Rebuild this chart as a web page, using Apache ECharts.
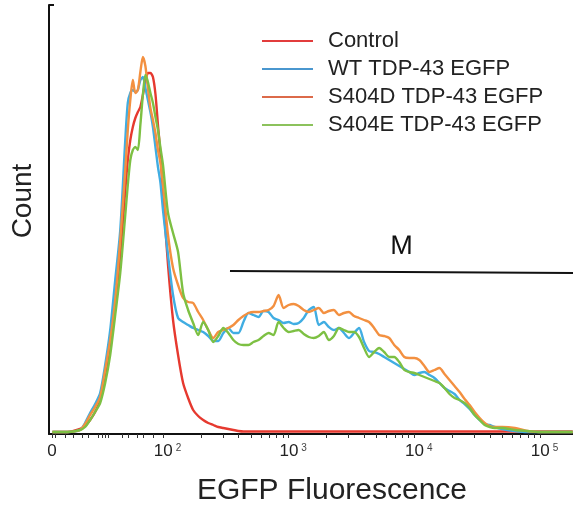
<!DOCTYPE html>
<html>
<head>
<meta charset="utf-8">
<script src="https://cdn.jsdelivr.net/npm/echarts@6/dist/echarts.min.js"></script>
<style>html,body{margin:0;padding:0;background:#fff}#c{width:573px;height:506px}</style>
</head>
<body>
<div id="c"></div>
<script>
// x positions in display decades (0 maps to 1.117, 10^2 -> 2, 10^3 -> 3 ...)
const xPos = [1.12,1.24,1.34,1.38,1.42,1.46,1.50,1.54,1.58,1.62,1.66,1.70,
1.72,1.74,1.76,1.78,1.80,1.82,1.84,1.86,1.88,1.90,1.92,1.94,1.96,1.98,2.00,
2.04,2.08,2.12,2.16,2.20,2.24,2.28,2.32,2.36,2.40,2.44,2.48,2.52,2.56,2.60,2.64,2.68,2.72,2.76,2.80,
2.84,2.88,2.92,2.96,3.00,3.04,3.08,3.12,3.16,3.20,3.24,3.28,3.32,3.36,3.40,3.44,3.48,3.52,3.56,3.60,
3.64,3.68,3.72,3.76,3.80,3.84,3.88,3.92,3.96,4.00,4.04,4.08,4.12,4.16,4.20,4.24,4.28,4.32,4.36,4.40,
4.44,4.48,4.52,4.56,4.60,4.64,4.70,4.80,4.90,5.00,5.12,5.26];

const control = [4,4,10, 16,28,44,68,114,174,262,358,488,
548,588,614,632,644,654,678,704,722,722,714,680,618,560,480,
338,228,158,102,72,48,36,28,22,18,14,12,10,8,6,5,5,5,5,5,
5,5,5,5,5,5,5,5,5,5,5,5,5,5,5,5,5,5,5,5,
5,5,5,5,5,5,5,5,5,5,5,5,5,5,5,5,5,5,5,5,
5,5,5,5,5,5,5,5,5,5,5,5];

const wt = [4,4,8, 22,42,60,82,138,208,308,408,588,
662,682,688,684,688,708,714,692,668,644,614,574,534,502,448,
358,278,232,224,218,212,208,204,196,186,186,202,212,202,202,224,242,238,234,246,
244,232,228,222,224,220,222,232,248,254,218,224,214,208,212,202,192,202,212,184,
166,164,160,154,148,142,136,130,124,118,122,124,118,112,102,92,86,80,68,60,
50,38,28,20,18,14,10,6,4,4,4,4];

const s404d = [4,4,8, 20,38,54,74,128,188,268,388,528,
608,668,708,682,688,724,754,736,692,652,628,602,568,542,498,
398,332,298,272,264,262,244,228,208,192,204,208,212,218,228,236,242,244,244,246,
248,256,278,252,258,260,256,248,244,248,252,242,246,248,238,242,244,236,232,228,
224,212,198,196,192,178,168,154,152,152,148,136,124,128,132,120,108,96,84,70,
58,44,32,22,16,14,14,12,6,4,4,4];

const s404e = [4,4,8, 14,28,44,62,102,158,238,322,438,
498,548,568,574,568,618,678,718,704,682,662,634,608,572,538,
442,402,364,282,248,222,198,224,208,184,196,212,202,188,180,178,178,184,188,196,
202,198,224,212,204,206,208,200,194,192,196,204,188,196,212,208,204,204,194,172,
154,164,172,164,154,154,144,128,124,122,118,114,110,106,102,92,80,72,68,62,
52,38,28,18,14,12,12,8,6,4,4,4];

const seriesNames = ['Control','WT TDP-43 EGFP','S404D TDP-43 EGFP','S404E TDP-43 EGFP'];
const tickValues = [1.117, 2, 3, 4, 5];
const tickExponents = [null, 2, 3, 4, 5];
const lowTicks = [1.141,1.22,1.284,1.356,1.403,1.483,1.515,1.539,1.562,1.674,1.722,1.793,1.841,1.92];
const gateRange = [2.533, 5.2625];
const gateLevel = [326, 322];
const gateLabel = 'M';

const FONT = '"Liberation Sans", Arial, Helvetica, sans-serif';
const lineColors = ['#e6392f', '#40ade2', '#f39040', '#7dc043'];
const legendColors = ['#e23c3c', '#4a97cf', '#dc6a4a', '#8cc25c'];

const allTicks = tickValues.concat(lowTicks);
for (let n = 2; n <= 4; n++) {
  for (let k = 2; k <= 9; k++) allTicks.push(Math.log10(k) + n);
}

function zip(ys) { return xPos.map((x, i) => [x, ys[i]]); }
const values = [control, wt, s404d, s404e];

const series = values.map((ys, i) => ({
  name: seriesNames[i],
  type: 'line',
  data: zip(ys),
  showSymbol: false,
  smooth: 0.25,
  lineStyle: { width: 2.4, color: lineColors[i] },
  itemStyle: { color: lineColors[i] },
  z: 2 + i
}));
series.push({
  name: 'gate',
  type: 'line',
  data: [],
  markLine: {
    silent: true,
    symbol: 'none',
    animation: false,
    lineStyle: { color: '#111', width: 2, type: 'solid' },
    label: { show: true, position: 'middle', formatter: gateLabel, fontSize: 27, color: '#111', fontFamily: FONT, distance: 12 },
    data: [[{ coord: [gateRange[0], gateLevel[0]] }, { coord: [gateRange[1], gateLevel[1]] }]]
  }
});

const chart = echarts.init(document.getElementById('c'), null, { renderer: 'canvas' });
chart.setOption({
  animation: false,
  backgroundColor: '#ffffff',
  grid: { left: 49, right: 0, top: 5, bottom: 72 },
  xAxis: {
    type: 'value',
    min: 1.093,
    max: 5.2625,
    splitLine: { show: false },
    axisLine: { show: true, onZero: false, lineStyle: { color: '#111', width: 2 } },
    axisTick: { show: true, customValues: allTicks, length: 4, inside: false, lineStyle: { color: '#333', width: 1 } },
    axisLabel: {
      customValues: tickValues,
      margin: 9,
      color: '#222',
      fontFamily: FONT,
      fontSize: 17,
      formatter: function (v) {
        let idx = 0, best = 1e9;
        tickValues.forEach((t, i) => { if (Math.abs(t - v) < best) { best = Math.abs(t - v); idx = i; } });
        if (tickExponents[idx] === null) return '{b|0}';
        return '{p|10}{s|' + tickExponents[idx] + '}';
      },
      rich: {
        b: { fontSize: 17, color: '#222', fontFamily: FONT },
        p: { fontSize: 17, color: '#222', fontFamily: FONT, padding: [0, 0, 0, 9] },
        s: { fontSize: 10, color: '#444', fontFamily: FONT, verticalAlign: 'top', padding: [0, 0, 0, 3] }
      }
    }
  },
  yAxis: {
    type: 'value',
    min: 0,
    max: 858,
    splitLine: { show: false },
    axisLabel: { show: false },
    axisLine: { show: true, lineStyle: { color: '#111', width: 2 } },
    axisTick: { show: true, customValues: [858], inside: true, length: 5, lineStyle: { color: '#111', width: 2 } }
  },
  legend: {
    orient: 'vertical',
    left: 257,
    top: 25,
    itemWidth: 51,
    itemHeight: 2,
    itemGap: 6,
    icon: 'rect',
    textStyle: { fontSize: 22, fontFamily: FONT, color: '#222', lineHeight: 22, padding: [0, 0, 0, 10] },
    data: seriesNames.map((n, i) => ({ name: n, itemStyle: { color: legendColors[i] } }))
  },
  graphic: [
    { type: 'text', x: 23, y: 201, rotation: Math.PI / 2,
      style: { text: 'Count', font: '28px ' + FONT, fill: '#222', textAlign: 'center', textVerticalAlign: 'middle' } },
    { type: 'text', x: 332, y: 491,
      style: { text: 'EGFP Fluorescence', font: '30px ' + FONT, fill: '#222', textAlign: 'center', textVerticalAlign: 'middle' } }
  ],
  series: series
});
</script>
</body>
</html>
